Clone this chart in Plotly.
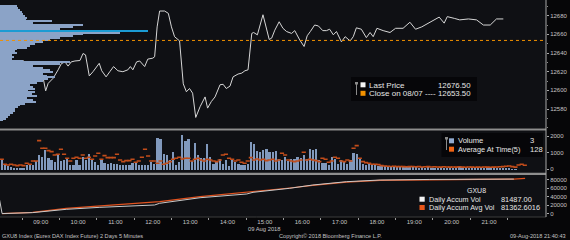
import plotly.graph_objects as go
import pandas as pd

DAY = "2018-08-09"

# ---------------- data ----------------
price_times = ["07:56","07:57","08:00","08:05","08:13","08:23","08:32","08:37","08:45","08:50",
"09:01","09:04","09:08","09:12","09:20","09:28","09:33","09:39","09:44","09:49",
"09:55","10:03","10:08","10:12","10:18","10:24","10:34","10:38","10:45","10:51",
"10:57","11:04","11:12","11:20","11:24","11:28","11:34","11:39","11:47","11:52",
"12:00","12:03","12:07","12:11","12:19","12:25","12:30","12:35","12:43","12:49",
"12:54","12:59","13:04","13:09","13:16","13:24","13:28","13:34","13:40","13:48",
"13:53","13:58","14:04","14:09","14:17","14:23","14:28","14:33","14:39","14:42",
"14:48","14:57","15:03","15:07","15:11","15:16","15:23","15:29","15:35","15:43",
"15:48","15:56","16:03","16:08","16:13","16:20","16:26","16:33","16:39","16:44",
"16:50","16:55","17:03","17:09","17:17","17:22","17:27","17:35","17:43","17:49",
"17:54","18:00","18:10","18:21","18:30","18:42","18:53","19:02","19:12","19:20",
"19:30","19:40","19:48","19:53","20:05","20:13","20:27","20:40","20:51","21:02",
"21:12","21:23"]
price_values = [12634.5,12638.0,12638.5,12633.5,12631.5,12632.0,12632.0,12627.0,12616.5,12614.0,
12614.0,12613.0,12599.5,12607.5,12613.0,12622.0,12628.5,12630.5,12626.0,12630.5,
12631.5,12632.0,12639.5,12638.0,12615.5,12620.0,12629.0,12621.0,12614.5,12620.0,
12625.5,12621.0,12620.0,12622.0,12625.5,12622.0,12630.5,12631.5,12625.5,12633.5,
12634.5,12636.0,12668.0,12685.0,12685.0,12682.5,12668.0,12657.5,12653.0,12607.0,
12598.5,12602.0,12597.0,12571.0,12582.5,12593.0,12581.0,12588.0,12593.0,12606.0,
12606.5,12602.0,12604.5,12614.5,12617.5,12618.5,12621.0,12622.0,12661.0,12662.0,
12659.5,12681.0,12666.5,12654.5,12656.0,12664.5,12673.5,12666.5,12663.0,12661.0,
12664.0,12654.0,12647.0,12658.5,12663.0,12670.0,12669.0,12664.0,12664.0,12665.5,
12659.5,12663.0,12652.0,12657.5,12653.0,12657.5,12667.0,12665.5,12656.5,12662.0,
12657.5,12666.5,12664.0,12662.0,12666.5,12666.5,12673.0,12665.5,12668.0,12671.0,
12674.5,12678.5,12672.0,12679.0,12677.0,12675.5,12676.5,12675.5,12670.0,12670.0,
12676.5,12676.5]
last_price = 12676.50
close_prev = 12653.50
close_label = "Close on 08/07"

# volume-at-price profile (left overlay)
profile_levels = [12690,12688,12686,12684,12682,12680,12678,12676,12674,12672,
12670,12668,12666,12664,12662,12660,12658,12656,12654,12652,
12650,12648,12646,12644,12642,12640,12638,12636,12634,12632,
12630,12628,12626,12624,12622,12620,12618,12616,12614,12612,
12610,12608,12606,12604,12602,12600,12598,12596,12594,12592,
12590,12588,12586,12584,12582,12580,12578,12576,12574,12572,
12570,12568]
profile_volume = [340,360,400,440,460,500,540,520,1040,660,
1660,1460,1200,2960,2400,1660,1460,1200,1000,860,
700,600,540,340,300,340,240,280,240,460,
1400,1200,660,860,1000,1060,860,940,1100,960,
860,740,600,660,700,560,700,640,740,540,
660,720,500,400,360,300,300,260,200,160,
120,60]
poc_level = 12664

# 5-minute volume bars starting 07:55
vol_start = "07:55"
volume = [600,260,220,160,100,100,100,100,260,300,
260,500,900,760,1160,720,560,460,960,500,
560,660,260,300,560,300,760,560,960,600,
460,300,560,420,360,420,360,360,260,260,
260,300,420,460,260,300,300,300,460,360,
1920,1820,960,900,600,1060,260,460,2120,1700,
1820,500,1620,860,
720,700,1520,760,360,460,660,360,600,220,
560,460,360,260,300,360,1660,1520,1100,1060,
1160,1260,1060,1060,1100,660,600,760,500,660,
660,760,700,900,660,1220,1160,1220,560,420,
420,260,760,660,360,600,460,360,560,1000,
960,720,360,300,360,300,260,220,
240,200,180,160,170,150,160,150,140,150,
170,150,130,140,130,160,130,120,130,140,
120,110,130,110,120,140,110,110,130,120,
100,100,120,110,100,90,110,100,80,90,
70,60,40,3]
avg_at_time = [600,300,260,300,260,220,260,220,360,300,
500,500,1720,1260,1260,1120,1060,860,900,1200,
900,660,500,660,720,660,860,660,720,600,
800,960,600,820,700,700,700,900,560,460,
520,520,600,420,500,720,1200,800,500,500,
360,500,300,360,460,600,660,720,620,660,
660,500,600,660,
560,500,600,560,500,460,560,860,900,660,
600,500,560,420,360,500,700,560,620,560,
600,520,560,600,500,560,960,860,560,500,
460,500,560,1020,560,600,560,520,460,660,
600,420,500,720,660,500,460,560,500,1260,
1420,660,460,400,360,300,300,280,
220,200,180,170,180,160,170,160,150,160,
170,150,160,140,150,160,140,150,140,130,
150,140,130,140,130,150,130,120,140,130,
120,130,120,140,130,120,130,140,150,160,
180,200,160,128,260,300,240]
last_volume = 3
last_avg = 128

# daily accumulated volume
accum_times = ["07:53","07:58","08:47","09:41","10:35","11:28","12:03","12:11","13:16",
"14:31","14:41","15:40","16:17","17:11","18:05","19:25","20:45","21:40"]
accum_vol = [40000,300,2500,10300,15000,18800,20500,24500,37600,
46400,50300,59800,67500,75300,79300,80600,81200,81487]
accum_avg_times = ["07:58","08:47","09:41","10:35","11:28","12:11","13:16","14:31",
"15:40","16:17","17:11","18:05","19:25","20:45","21:40","21:58"]
accum_avg = [300,3200,12700,18500,24000,28500,40000,50000,
60500,66500,74500,78500,80500,81000,81363,83000]
last_accum = "81487.00"
last_accum_avg = "81362.6016"

price_ticks = [12580, 12600, 12620, 12640, 12660, 12680]
vol_ticks = [0, 1000, 2000]
accum_ticks = [0, 20000, 40000, 60000, 80000]
hour_labels = ["09:00","10:00","11:00","12:00","13:00","14:00","15:00",
               "16:00","17:00","18:00","19:00","20:00","21:00"]
half_hours = ["08:30","09:30","10:30","11:30","12:30","13:30","14:30","15:30",
              "16:30","17:30","18:30","19:30","20:30","21:30"]

# ---------------- layout helpers ----------------
W_PLOT = 546.0
H_PLOT = 217.0
def px(x):
    return x / W_PLOT
def py(y):
    return (H_PLOT - y) / H_PLOT
def ts(hm):
    return f"{DAY} {hm}"

FONT = "Liberation Sans, Arial, sans-serif"
BG = "#0f1014"
TXT = "#e6e6e6"
AX = "#c4c4c4"

vol_times = pd.date_range(ts(vol_start), periods=len(volume), freq="5min")
avg_times = pd.date_range(ts(vol_start), periods=len(avg_at_time), freq="5min")

fig = go.Figure()

# volume profile
fig.add_trace(go.Bar(
    x=profile_volume, y=profile_levels, orientation="h",
    xaxis="x4", yaxis="y", width=1.35,
    marker=dict(color=["#1b9bd3" if lv == poc_level else "#8ba3c7" for lv in profile_levels],
                line=dict(width=0)),
    hoverinfo="skip", showlegend=False))

# price
fig.add_trace(go.Scatter(
    x=[ts(t) for t in price_times], y=price_values, mode="lines",
    line=dict(color="#d6d6d6", width=1), xaxis="x", yaxis="y", showlegend=False))

# volume bars
fig.add_trace(go.Bar(
    x=vol_times, y=volume, xaxis="x", yaxis="y2",
    xperiod=300000, xperiodalignment="middle", width=300000 * 0.72,
    marker=dict(color="#8199bd", line=dict(width=0)), showlegend=False))
fig.add_trace(go.Scatter(
    x=avg_times, y=avg_at_time, xaxis="x", yaxis="y2", mode="markers",
    xperiod=300000, xperiodalignment="middle",
    marker=dict(symbol="line-ew", size=3, line=dict(width=1.6, color="#c24c1a")),
    showlegend=False))

# accumulated volume
fig.add_trace(go.Scatter(
    x=[ts(t) for t in accum_avg_times], y=accum_avg, mode="lines",
    line=dict(color="#e0521f", width=1.2), xaxis="x", yaxis="y3", showlegend=False))
fig.add_trace(go.Scatter(
    x=[ts(t) for t in accum_times], y=accum_vol, mode="lines",
    line=dict(color="#c9c9c9", width=1), xaxis="x", yaxis="y3", showlegend=False))

shapes = []
# previous close dotted line
shapes.append(dict(type="line", xref="paper", yref="y", x0=0, x1=1, y0=close_prev, y1=close_prev,
                   line=dict(color="#f09000", width=1, dash="dot"), layer="above"))
# panel separators
for y0, y1 in [(128.4, 130.6), (172.8, 175.0)]:
    shapes.append(dict(type="rect", xref="paper", yref="paper", x0=0, x1=1,
                       y0=py(y1), y1=py(y0), fillcolor="#8e8e8e", line=dict(width=0)))
shapes.append(dict(type="line", xref="paper", yref="paper", x0=0, x1=1, y0=0, y1=0,
                   line=dict(color="#3c3c3c", width=1)))
shapes.append(dict(type="line", xref="paper", yref="paper", x0=1, x1=1, y0=0, y1=1,
                   line=dict(color="#a8a8a8", width=1)))

# legend boxes
def rect(x0, y0, x1, y1, color):
    return dict(type="rect", xref="paper", yref="paper", x0=px(x0), x1=px(x1),
                y0=py(y1), y1=py(y0), fillcolor=color, line=dict(width=0), layer="above")
shapes.append(rect(351, 77, 477, 101, "rgba(6,6,8,0.9)"))
shapes.append(rect(441.5, 133, 543, 157, "rgba(6,6,8,0.9)"))
# bracket glyphs
for gx, gy0, gy1 in [(356.5, 83.5, 95), (446.5, 138.5, 150)]:
    shapes.append(rect(gx - 1.5, gy0 - 1.5, gx + 1.5, gy0 + 1.0, "#8a8a8a"))
    shapes.append(dict(type="line", xref="paper", yref="paper", x0=px(gx), x1=px(gx),
                       y0=py(gy1), y1=py(gy0), line=dict(color="#8a8a8a", width=1), layer="above"))
# legend squares
shapes.append(rect(360.5, 82.3, 365.5, 87.3, "#f4f4f4"))
shapes.append(rect(360.5, 90.8, 365.5, 95.8, "#f29100"))
shapes.append(rect(449, 138.3, 454, 143.3, "#92abd0"))
shapes.append(rect(449, 146.7, 454, 151.7, "#f06414"))
shapes.append(rect(419.5, 196.7, 424.7, 201.7, "#f4f4f4"))
shapes.append(rect(419.5, 205.0, 424.7, 210.0, "#e8561a"))

ann = []
def text(x, y, s, anchor="left", size=7.6, color=TXT):
    ann.append(dict(xref="paper", yref="paper", x=px(x), y=py(y), text=s,
                    xanchor=anchor, yanchor="middle", showarrow=False,
                    font=dict(family=FONT, size=size, color=color)))

text(367, 85.2, "Last Price", size=8)
text(473, 85.2, f"{last_price:.2f}", "right", 7.8)
text(367, 93.5, close_label + " ----", size=8)
text(473, 93.5, f"{close_prev:.2f}", "right", 7.8)
text(455.5, 140.8, "Volume")
text(527.5, 140.8, str(last_volume))
text(455.5, 149.2, "Average At Time(5)", size=7.3)
text(527.5, 149.2, str(last_avg))
text(476, 190.7, "GXU8", "center", 7)
text(426.5, 199.2, "Daily Accum Vol", size=7.2)
text(499, 199.2, last_accum, size=7.4)
text(426.5, 207.6, "Daily Accum Avg Vol", size=7.2)
text(498.5, 207.6, last_accum_avg, size=7.4)
text(0, 236, "GXU8 Index (Eurex DAX Index Future) 2 Days 5 Minutes", "left", 5.6, "#c4c4c4")
text(264, 229, "09 Aug 2018", "center", 5.8, "#c4c4c4")
text(277, 236, "Copyright\u00a9 2018 Bloomberg Finance L.P.", "left", 5.6, "#c4c4c4")
text(568, 236, "09-Aug-2018 21:40:43", "right", 5.6, "#c4c4c4")

yax_common = dict(side="right", anchor="x", showgrid=False, zeroline=False,
                  ticks="outside", ticklen=2, tickcolor="#a8a8a8", tickwidth=1,
                  tickformat="d",
                  tickfont=dict(family=FONT, size=6, color=AX), showline=False)

fig.update_layout(
    width=570, height=240,
    margin=dict(l=0, r=24, t=0, b=23),
    paper_bgcolor="#060608", plot_bgcolor=BG,
    bargap=0, barmode="overlay",
    showlegend=False,
    xaxis=dict(domain=[0, 1], anchor="y3", type="date",
               range=[ts("07:54:38"), ts("22:31:33")],
               tickmode="array", tickvals=[ts(h) for h in hour_labels], ticktext=hour_labels,
               ticks="", showgrid=False, zeroline=False, showline=False,
               tickfont=dict(family=FONT, size=6, color=AX),
               minor=dict(tickmode="array", tickvals=[ts(h) for h in half_hours],
                          ticks="outside", ticklen=2, tickcolor="#9a9a9a", showgrid=False)),
    xaxis4=dict(overlaying="x", anchor="y", range=[0, W_PLOT * 20], visible=False),
    yaxis=dict(domain=[py(128), 1], range=[12559.7, 12696.8], tickvals=price_ticks,
               minor=dict(dtick=10, ticks="outside", ticklen=1, tickcolor="#8a8a8a"),
               **yax_common),
    yaxis2=dict(domain=[py(173), py(130.5)], range=[-222, 2330], tickvals=vol_ticks,
                **yax_common),
    yaxis3=dict(domain=[0, py(175)], range=[-7765, 91061], tickvals=accum_ticks,
                **yax_common),
    shapes=shapes, annotations=ann,
)

fig.write_html("out.html", config={"displayModeBar": False})
